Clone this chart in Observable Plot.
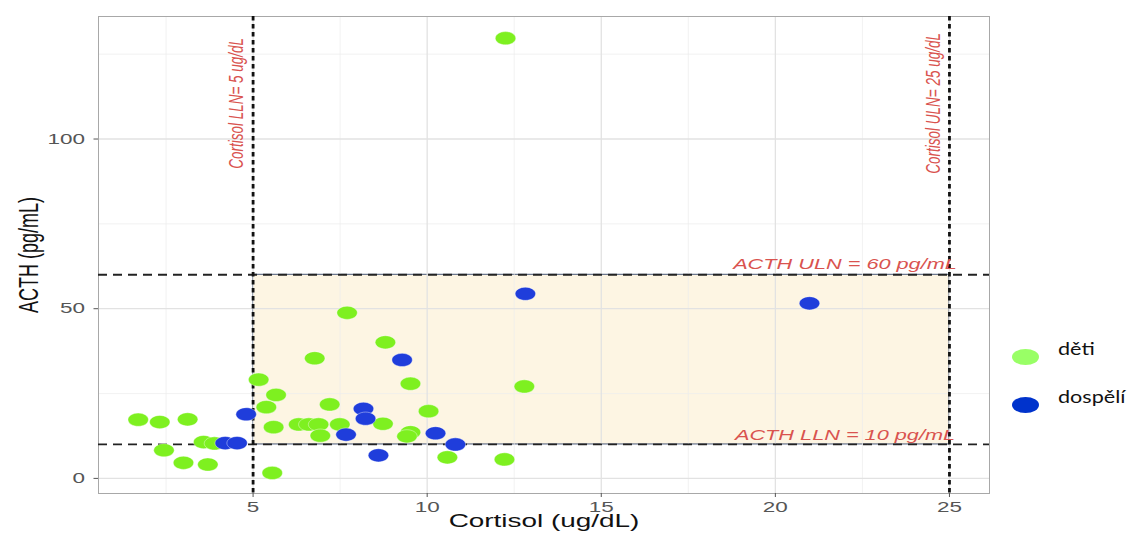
<!DOCTYPE html>
<html>
<head>
<meta charset="utf-8">
<script src="https://cdn.jsdelivr.net/npm/d3@7"></script>
<script src="https://cdn.jsdelivr.net/npm/@observablehq/plot@0.6"></script>
<style>
  html, body { margin: 0; padding: 0; background: #fff; }
  #wrap { position: relative; width: 1129px; height: 534px; overflow: hidden; }
  #chart { position: absolute; left: 0; top: 0; }
  .leg { position: absolute; left: 1012px; font-family: Lato, "Open Sans", sans-serif; font-size: 18px; color: #111; }
  .leg .key { position: absolute; left: 0; width: 27px; height: 16px; border-radius: 50%; }
  .leg .lab { position: absolute; left: 46px; top: -12px; white-space: nowrap; transform: scaleX(1.2); transform-origin: left center; }
</style>
</head>
<body>
<div id="wrap">
  <div id="chart"></div>
</div>
<script>
// ---- data ----
const childCortisol = [7.70, 8.80, 6.77, 5.16, 9.52, 5.66, 5.38, 7.20, 10.04, 1.70, 2.32, 3.12, 5.59, 6.31, 6.60, 6.88, 7.49, 8.73, 6.93, 9.52, 9.42, 3.58, 3.89, 2.44, 3.00, 3.70, 5.55, 10.58, 12.79, 12.22, 12.25];
const childACTH     = [48.8, 40.1, 35.4, 29.1, 27.9, 24.6, 21.0, 21.8, 19.8, 17.3, 16.6, 17.4, 15.1, 15.9, 15.9, 15.9, 15.9, 16.1, 12.6, 13.6, 12.4, 10.7, 10.3, 8.3, 4.6, 4.1, 1.6, 6.2, 27.1, 5.6, 129.7];
const adultCortisol = [9.28, 4.80, 8.17, 8.23, 7.67, 10.24, 10.81, 8.60, 4.20, 4.54, 12.82, 20.98];
const adultACTH     = [34.9, 18.9, 20.5, 17.6, 12.9, 13.3, 10.0, 6.8, 10.4, 10.4, 54.4, 51.6];

const groupNames = ["děti", "dospělí"];
const xTicks = [5, 10, 15, 20, 25];
const xMinor = [2.5, 7.5, 12.5, 17.5, 22.5];
const yTicks = [0, 50, 100];
const yMinor = [25, 75, 125];
const cortisolLimits = [5, 25];
const acthLimits = [10, 60];
const cortisolLabels = ["Cortisol LLN= 5 ug/dL", "Cortisol ULN= 25 ug/dL"];
const acthLabels = ["ACTH LLN = 10 pg/mL", "ACTH ULN = 60 pg/mL"];
const xTitle = "Cortisol (ug/dL)";
const yTitle = "ACTH (pg/mL)";

// tables built from the arrays
const children = childCortisol.map((c, i) => ({cortisol: c, acth: childACTH[i]}));
const adults = adultCortisol.map((c, i) => ({cortisol: c, acth: adultACTH[i]}));
const normalBox = [{x1: cortisolLimits[0], x2: cortisolLimits[1], y1: acthLimits[0], y2: acthLimits[1]}];
const vLabelData = cortisolLabels.map((t, i) => ({text: t, x: cortisolLimits[i] - 0.47, y: 110.5}));
const hLabelData = acthLabels.map((t, i) => ({text: t, x: 22, y: acthLimits[i] + (i === 0 ? 2.6 : 3)}));

const colChild = "#7ef020";
const colAdult = "#1f3ddb";
const red = "#d9534f";

// horizontally stretched ellipse symbol
const ellipse = {
  draw(ctx, size) {
    const r = Math.sqrt(size / Math.PI), rx = r * 1.55, ry = r, k = 0.5523;
    ctx.moveTo(rx, 0);
    ctx.bezierCurveTo(rx, ry * k, rx * k, ry, 0, ry);
    ctx.bezierCurveTo(-rx * k, ry, -rx, ry * k, -rx, 0);
    ctx.bezierCurveTo(-rx, -ry * k, -rx * k, -ry, 0, -ry);
    ctx.bezierCurveTo(rx * k, -ry, rx, -ry * k, rx, 0);
    ctx.closePath();
  }
};

const chart = Plot.plot({
  width: 1000,
  height: 534,
  marginLeft: 98,
  marginRight: 11,
  marginTop: 16,
  marginBottom: 41,
  style: {fontFamily: "'Liberation Sans', Arial, sans-serif", background: "#fff"},
  x: {domain: [0.56, 26.15]},
  y: {domain: [-4.45, 136.1]},
  marks: [
    Plot.rect(normalBox, {x1: "x1", x2: "x2", y1: "y1", y2: "y2", fill: "#fdf5e3", stroke: "#34466a", strokeWidth: 0.9}),
    Plot.gridX(xMinor, {stroke: "#ececec", strokeOpacity: 1, strokeWidth: 0.7}),
    Plot.gridY(yMinor, {stroke: "#ececec", strokeOpacity: 1, strokeWidth: 0.7}),
    Plot.gridX(xTicks, {stroke: "#e2e2e2", strokeOpacity: 1, strokeWidth: 1.3}),
    Plot.gridY(yTicks, {stroke: "#e2e2e2", strokeOpacity: 1, strokeWidth: 1.3}),
    Plot.frame({stroke: "#a8a8a8", strokeWidth: 1}),
    Plot.ruleY(acthLimits, {stroke: "#222", strokeWidth: 1.8, strokeDasharray: "9,6"}),
    Plot.ruleX(cortisolLimits, {stroke: "#111", strokeWidth: 2.8, strokeDasharray: "4.5,3.5"}),
    Plot.dot(children, {x: "cortisol", y: "acth", r: 6.6, symbol: ellipse, fill: colChild, stroke: "#ffffff", strokeOpacity: 0.5, strokeWidth: 0.8}),
    Plot.dot(adults, {x: "cortisol", y: "acth", r: 6.6, symbol: ellipse, fill: colAdult, stroke: "#ffffff", strokeOpacity: 0.5, strokeWidth: 0.8}),
    Plot.text(vLabelData, {x: "x", y: "y", text: "text", rotate: -90, fontSize: 13.5, fontStyle: "italic", fill: red}),
    Plot.text(hLabelData, {x: "x", y: "y", text: "text", fontSize: 14, fontStyle: "italic", fill: red}),
    Plot.axisX(xTicks, {tickSize: 4, tickPadding: 4, fontSize: 14.5, color: "#555", label: null}),
    Plot.axisY(yTicks, {tickSize: 4.5, tickPadding: 9, fontSize: 14.5, color: "#555", label: null}),
    Plot.text([xTitle], {frameAnchor: "bottom", textAnchor: "middle", lineAnchor: "middle", dy: 28, text: d => d, fontSize: 18, fill: "#111"}),
    Plot.text([yTitle], {frameAnchor: "left", textAnchor: "middle", lineAnchor: "middle", dx: -69, rotate: -90, text: d => d, fontSize: 18, fill: "#111"})
  ]
});

document.getElementById("chart").appendChild(chart);

// mimic the reference's horizontal stretch of all text
const STRETCH = 1.55;
chart.querySelectorAll("text").forEach(t => {
  const L = t.getComputedTextLength();
  if (!L) return;
  const tr = t.getAttribute("transform") || "";
  if (tr.includes("rotate")) {
    t.setAttribute("transform", tr.replace("rotate(", `scale(${STRETCH},1) rotate(`));
  } else {
    t.setAttribute("textLength", L * STRETCH);
    t.setAttribute("lengthAdjust", "spacingAndGlyphs");
  }
});

// legend
const legendColors = ["#99ff66", "#0033cc"];
const legendTops = [349, 397];
const wrap = document.getElementById("wrap");
groupNames.forEach((name, i) => {
  const item = document.createElement("div");
  item.className = "leg";
  item.style.top = legendTops[i] + "px";
  const key = document.createElement("div");
  key.className = "key";
  key.style.background = legendColors[i];
  const lab = document.createElement("div");
  lab.className = "lab";
  lab.textContent = name;
  item.appendChild(key);
  item.appendChild(lab);
  wrap.appendChild(item);
});
</script>
</body>
</html>
